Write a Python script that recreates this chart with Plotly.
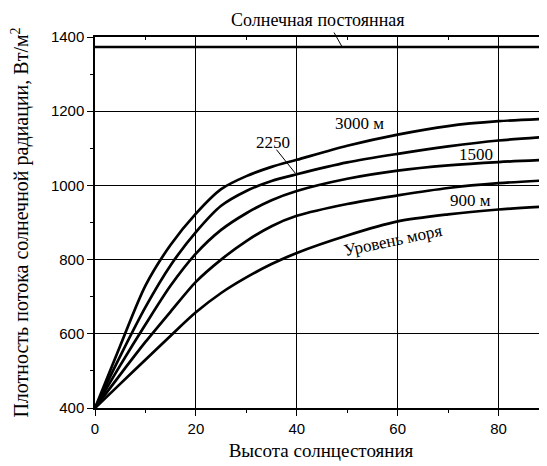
import plotly.graph_objects as go

# Solar elevation angle (degrees)
elev = [0, 5, 10, 15, 20, 25, 30, 35, 40, 50, 60, 70, 80, 90]

# Solar radiation flux density, W/m^2, by altitude
h3000 = [400, 568, 730, 840, 924, 990, 1025, 1050, 1069, 1107, 1137, 1160, 1173, 1180]
h2250 = [400, 540, 672, 785, 874, 945, 985, 1012, 1030, 1062, 1085, 1105, 1121, 1131]
h1500 = [400, 515, 625, 730, 816, 880, 925, 960, 985, 1018, 1040, 1054, 1063, 1069]
h900 = [400, 490, 578, 660, 740, 800, 850, 890, 918, 950, 973, 993, 1006, 1014]
h_sea = [400, 465, 530, 595, 658, 710, 752, 788, 818, 865, 903, 922, 935, 944]

solar_const_x = [0, 90]
solar_const_y = [1373, 1373]

series = [h3000, h2250, h1500, h900, h_sea]

fig = go.Figure()
for ys in series:
    fig.add_trace(go.Scatter(x=elev, y=ys, mode="lines",
                             line=dict(color="black", width=2.7, shape="spline", smoothing=0.8),
                             showlegend=False, hoverinfo="skip"))
fig.add_trace(go.Scatter(x=solar_const_x, y=solar_const_y, mode="lines",
                         line=dict(color="black", width=2.7),
                         showlegend=False, hoverinfo="skip"))
# invisible trace to activate mirror axes
fig.add_trace(go.Scatter(x=[0], y=[400], xaxis="x2", yaxis="y2", mode="markers",
                         marker=dict(opacity=0), showlegend=False, hoverinfo="skip"))

XR = [0, 89.6]
YR = [400, 1400]
serif = "Times New Roman, Liberation Serif, DejaVu Serif, serif"
sans = "Arial, Liberation Sans, sans-serif"

fig.update_layout(
    width=539, height=458,
    margin=dict(l=87, r=0, t=29, b=58),
    font=dict(family=serif),
    paper_bgcolor="white", plot_bgcolor="white",
    xaxis=dict(range=XR, dtick=20, tick0=0, ticks="outside", ticklen=6, tickwidth=1.2,
               tickcolor="black", showline=True, linecolor="black", linewidth=1.5,
               showgrid=True, gridcolor="black", gridwidth=1, zeroline=False, automargin=False,
               minor=dict(dtick=10, ticks="outside", ticklen=3, tickcolor="black", showgrid=False),
               tickfont=dict(family=sans, size=15, color="black"),
               title=dict(text="Высота солнцестояния", font=dict(family=serif, size=19, color="black"),
                          standoff=8)),
    yaxis=dict(range=YR, dtick=200, tick0=400, ticks="outside", ticklen=6, tickwidth=1.2,
               tickcolor="black", showline=True, linecolor="black", linewidth=1.5,
               showgrid=True, gridcolor="black", gridwidth=1, zeroline=False, automargin=False,
               minor=dict(dtick=100, ticks="outside", ticklen=3, tickcolor="black", showgrid=False),
               tickfont=dict(family=sans, size=15, color="black"),
               title=dict(text="Плотность потока солнечной радиации, Вт/м<sup>2</sup>",
                          font=dict(family=serif, size=20, color="black"), standoff=24)),
    xaxis2=dict(range=XR, overlaying="x", side="top", dtick=20, tick0=0, ticks="inside", ticklen=6,
                tickcolor="black", showline=True, linecolor="black", linewidth=1.5, automargin=False,
                showgrid=False, zeroline=False, showticklabels=False,
                minor=dict(dtick=10, ticks="inside", ticklen=3, tickcolor="black")),
    yaxis2=dict(range=YR, overlaying="y", side="right", dtick=200, tick0=400, ticks="inside", ticklen=6,
                tickcolor="black", showline=True, linecolor="black", linewidth=1.5, automargin=False,
                showgrid=False, zeroline=False, showticklabels=False,
                minor=dict(dtick=100, ticks="inside", ticklen=3, tickcolor="black")),
)

def label(text, x, y, angle=0, size=17, yref="y"):
    fig.add_annotation(x=x, y=y, yref=yref, text=text, showarrow=False, textangle=angle,
                       xanchor="center", yanchor="middle",
                       font=dict(family=serif, size=size, color="black"))

def pointer(x, y, ax, ay):
    fig.add_annotation(x=x, y=y, text="", showarrow=True, arrowhead=0, arrowwidth=1,
                       arrowcolor="black", ax=ax, ay=ay, standoff=0, startstandoff=0)

label("Солнечная постоянная", 44.2, 1.046, size=18, yref="paper")
pointer(49, 1373, -9, -16)
label("3000 м", 52.4, 1167)
label("2250", 35.2, 1116)
pointer(39.7, 1033, -20, -25)
label("1500", 75.6, 1083)
label("900 м", 74.4, 960)
label("Уровень моря", 59.1, 852, angle=-12)

fig.write_html("out.html")
